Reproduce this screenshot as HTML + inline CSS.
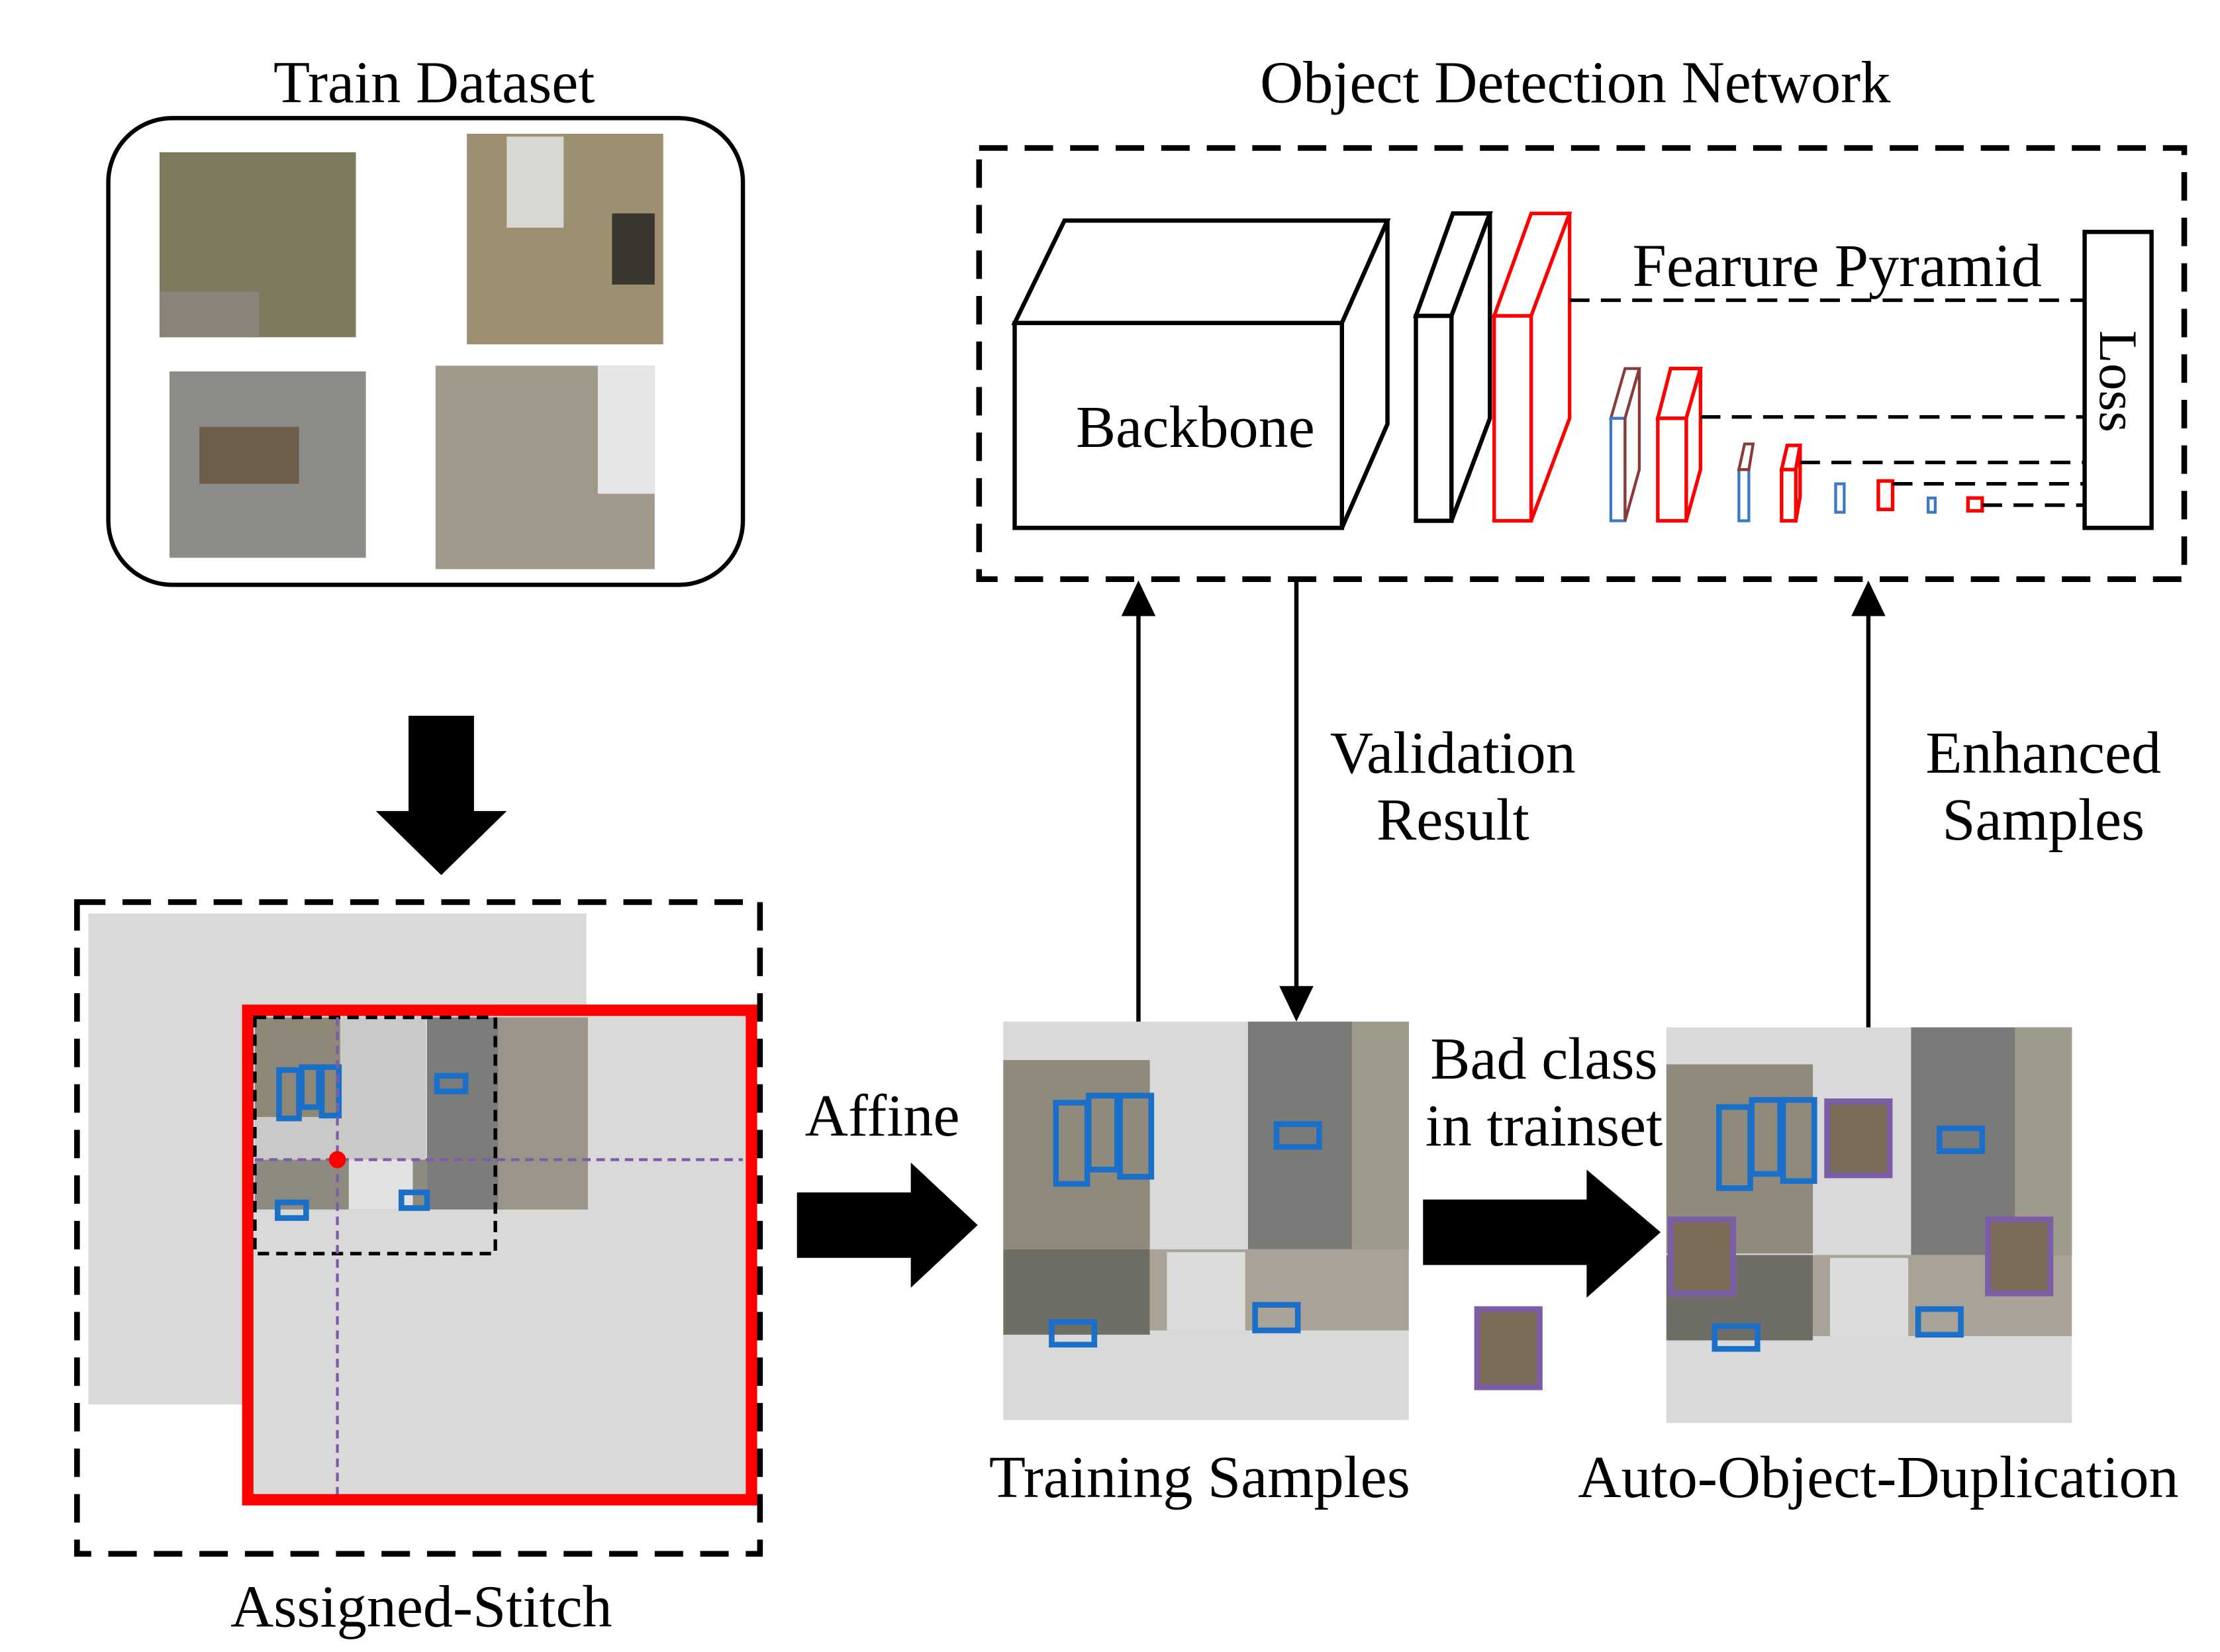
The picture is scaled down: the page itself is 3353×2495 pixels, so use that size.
<!DOCTYPE html>
<html><head><meta charset="utf-8"><style>
html,body{margin:0;padding:0;background:#fff}
svg{display:block}
text{font-family:"Liberation Serif",serif;fill:#000}
</style></head><body>
<svg width="3353" height="2495" viewBox="0 0 1560 1161" xmlns="http://www.w3.org/2000/svg">
<text x="305" y="72" font-size="42" text-anchor="middle">Train Dataset</text>
<rect x="76" y="83" width="446" height="328" rx="45" fill="none" stroke="#000" stroke-width="3"/>
<rect x="112" y="107" width="138" height="130" fill="#7d7a5e"/>
<rect x="112" y="205" width="70" height="32" fill="#8a8478"/>
<rect x="328" y="94" width="138" height="148" fill="#9d8f72"/>
<rect x="356" y="96" width="40" height="64" fill="#d8d8d4"/>
<rect x="430" y="150" width="30" height="50" fill="#3a3630"/>
<rect x="119" y="261" width="138" height="131" fill="#8c8c88"/>
<rect x="140" y="300" width="70" height="40" fill="#6d5f4c"/>
<rect x="306" y="257" width="154" height="143" fill="#a0998c"/>
<rect x="420" y="257" width="40" height="90" fill="#e6e6e6"/>
<polygon points="287,503 333,503 333,570 356,570 310,615 264,570 287,570" fill="#000"/>
<rect x="54" y="634" width="480" height="458" fill="none" stroke="#000" stroke-width="4" stroke-dasharray="20 12"/>
<rect x="62" y="642" width="350" height="345" fill="#d9d9d9"/>
<rect x="174" y="710" width="354" height="344" fill="#d9d9d9" stroke="#f00" stroke-width="8"/>
<rect x="179" y="715" width="120" height="100" fill="#c9c9c7"/>
<rect x="179" y="715" width="60" height="70" fill="#8f8878"/>
<rect x="300" y="715" width="113" height="135" fill="#7c7c7a"/>
<rect x="350" y="715" width="63" height="135" fill="#9a9588"/>
<rect x="179" y="815" width="121" height="35" fill="#8e8a80"/>
<rect x="245" y="815" width="45" height="35" fill="#e2e2e2"/>
<g fill="none" stroke="#1a6fc9" stroke-width="4">
<rect x="196" y="752" width="14" height="34"/><rect x="212" y="750" width="12" height="28"/><rect x="226" y="750" width="12" height="34"/>
<rect x="307" y="756" width="20" height="11"/><rect x="195" y="845" width="20" height="11"/><rect x="282" y="838" width="18" height="11"/>
</g>
<rect x="179" y="715" width="169" height="166" fill="none" stroke="#000" stroke-width="2.5" stroke-dasharray="8 5"/>
<line x1="237" y1="715" x2="237" y2="1050" stroke="#7b5ea7" stroke-width="2" stroke-dasharray="6 4"/>
<line x1="179" y1="815" x2="522" y2="815" stroke="#7b5ea7" stroke-width="2" stroke-dasharray="6 4"/>
<circle cx="237" cy="815" r="6" fill="#f00"/>
<text x="296" y="1143" font-size="42" text-anchor="middle">Assigned-Stitch</text>
<text x="620" y="798" font-size="42" text-anchor="middle">Affine</text>
<polygon points="560,838 640,838 640,817 687,861 640,905 640,884 560,884" fill="#000"/>
<rect x="705" y="718" width="285" height="280" fill="#d9d9d9"/>
<rect x="705" y="745" width="103" height="133" fill="#8f8a7c"/>
<rect x="877" y="718" width="113" height="160" fill="#7a7a78"/>
<rect x="950" y="718" width="40" height="160" fill="#9e9a8c"/>
<rect x="705" y="878" width="103" height="60" fill="#6f6e66"/>
<rect x="808" y="878" width="182" height="57" fill="#a8a396"/>
<rect x="820" y="880" width="55" height="55" fill="#dcdcdc"/>
<g fill="none" stroke="#1a6fc9" stroke-width="4">
<rect x="742" y="775" width="22" height="57"/><rect x="765" y="770" width="20" height="52"/><rect x="787" y="770" width="22" height="57"/>
<rect x="897" y="790" width="30" height="16"/><rect x="739" y="929" width="30" height="16"/><rect x="882" y="917" width="30" height="18"/>
</g>
<text x="843" y="1052" font-size="42" text-anchor="middle">Training Samples</text>
<line x1="800" y1="718" x2="800" y2="430" stroke="#000" stroke-width="3"/>
<polygon points="800,408 788,433 812,433" fill="#000"/>
<line x1="911" y1="408" x2="911" y2="695" stroke="#000" stroke-width="3"/>
<polygon points="911,718 899,693 923,693" fill="#000"/>
<text x="1021" y="543" font-size="42" text-anchor="middle">Validation</text>
<text x="1021" y="590" font-size="42" text-anchor="middle">Result</text>
<text x="1085" y="758" font-size="42" text-anchor="middle">Bad class</text>
<text x="1085" y="805" font-size="42" text-anchor="middle">in trainset</text>
<polygon points="1000,843 1115,843 1115,822 1167,866 1115,912 1115,889 1000,889" fill="#000"/>
<rect x="1038" y="920" width="44" height="55" fill="#7a6c58" stroke="#7b5ea7" stroke-width="4"/>
<rect x="1171" y="722" width="285" height="278" fill="#d9d9d9"/>
<rect x="1171" y="748" width="103" height="133" fill="#8f8a7c"/>
<rect x="1343" y="722" width="113" height="160" fill="#7a7a78"/>
<rect x="1416" y="722" width="40" height="160" fill="#9e9a8c"/>
<rect x="1171" y="882" width="103" height="60" fill="#6f6e66"/>
<rect x="1274" y="882" width="182" height="57" fill="#a8a396"/>
<rect x="1286" y="884" width="55" height="55" fill="#dcdcdc"/>
<g fill="none" stroke="#1a6fc9" stroke-width="4">
<rect x="1208" y="778" width="22" height="57"/><rect x="1231" y="773" width="20" height="52"/><rect x="1253" y="773" width="22" height="57"/>
<rect x="1363" y="793" width="30" height="16"/><rect x="1205" y="932" width="30" height="16"/><rect x="1348" y="920" width="30" height="18"/>
</g>
<g fill="#7a6c58" stroke="#7b5ea7" stroke-width="4">
<rect x="1284" y="774" width="44" height="52"/><rect x="1174" y="857" width="44" height="52"/><rect x="1397" y="857" width="44" height="52"/>
</g>
<text x="1320" y="1052" font-size="42" text-anchor="middle">Auto-Object-Duplication</text>
<line x1="1313" y1="722" x2="1313" y2="430" stroke="#000" stroke-width="3"/>
<polygon points="1313,408 1301,433 1325,433" fill="#000"/>
<text x="1436" y="543" font-size="42" text-anchor="middle">Enhanced</text>
<text x="1436" y="590" font-size="42" text-anchor="middle">Samples</text>
<text x="1107" y="72" font-size="42" text-anchor="middle">Object Detection Network</text>
<rect x="688" y="104" width="847" height="303" fill="none" stroke="#000" stroke-width="4" stroke-dasharray="20 12"/>
<g fill="#fff" stroke="#000" stroke-width="3">
<polygon points="713,227 748,155 975,155 943,227"/>
<polygon points="943,227 975,155 975,298 943,371"/>
<rect x="713" y="227" width="230" height="144"/>
<polygon points="995,222 1021,150 1047,150 1020,222"/>
<polygon points="1020,222 1047,150 1047,294 1020,366"/>
<rect x="995" y="222" width="25" height="144"/>
<rect x="1465" y="163" width="47" height="208"/>
</g>
<text x="840" y="314" font-size="42" text-anchor="middle">Backbone</text>
<text transform="translate(1476,268) rotate(90)" font-size="38" text-anchor="middle">Loss</text>
<g fill="#fff" stroke="#f00" stroke-width="2.5">
<polygon points="1050,222 1076,150 1103,150 1076,222"/><polygon points="1076,222 1103,150 1103,294 1076,366"/><rect x="1050" y="222" width="26" height="144"/>
<polygon points="1165,294 1174,259 1195,259 1185,294"/><polygon points="1185,294 1195,259 1195,330 1185,366"/><rect x="1165" y="294" width="20" height="72"/>
<polygon points="1252,330 1256,313 1265,313 1262,330"/><polygon points="1262,330 1265,313 1265,349 1262,366"/><rect x="1252" y="330" width="10" height="36"/>
<rect x="1320" y="338" width="10" height="20"/>
<rect x="1383" y="350" width="10" height="9"/>
</g>
<g fill="#fff" stroke-width="2">
<polygon points="1132,294 1142,259 1152,259 1142,294" stroke="#8b3a3a"/><rect x="1132" y="294" width="10" height="72" stroke="#3a78c9"/><polygon points="1142,294 1152,259 1152,330 1142,366" stroke="#8b3a3a"/>
<rect x="1222" y="330" width="7" height="36" stroke="#3a78c9"/><polygon points="1222,330 1226,312 1232,312 1229,330" stroke="#8b3a3a"/>
<rect x="1290" y="340" width="6" height="20" stroke="#3a78c9"/>
<rect x="1355" y="350" width="5" height="10" stroke="#3a78c9"/>
</g>
<g stroke="#000" stroke-width="2.5" stroke-dasharray="14 8">
<line x1="1103" y1="211" x2="1465" y2="211"/>
<line x1="1195" y1="293" x2="1465" y2="293"/>
<line x1="1265" y1="325" x2="1465" y2="325"/>
<line x1="1330" y1="340" x2="1465" y2="340"/>
<line x1="1393" y1="355" x2="1465" y2="355"/>
</g>
<rect x="1138" y="166" width="308" height="40" fill="#fff"/>
<text x="1291" y="201" font-size="43" text-anchor="middle">Fearure Pyramid</text>
</svg>
</body></html>
